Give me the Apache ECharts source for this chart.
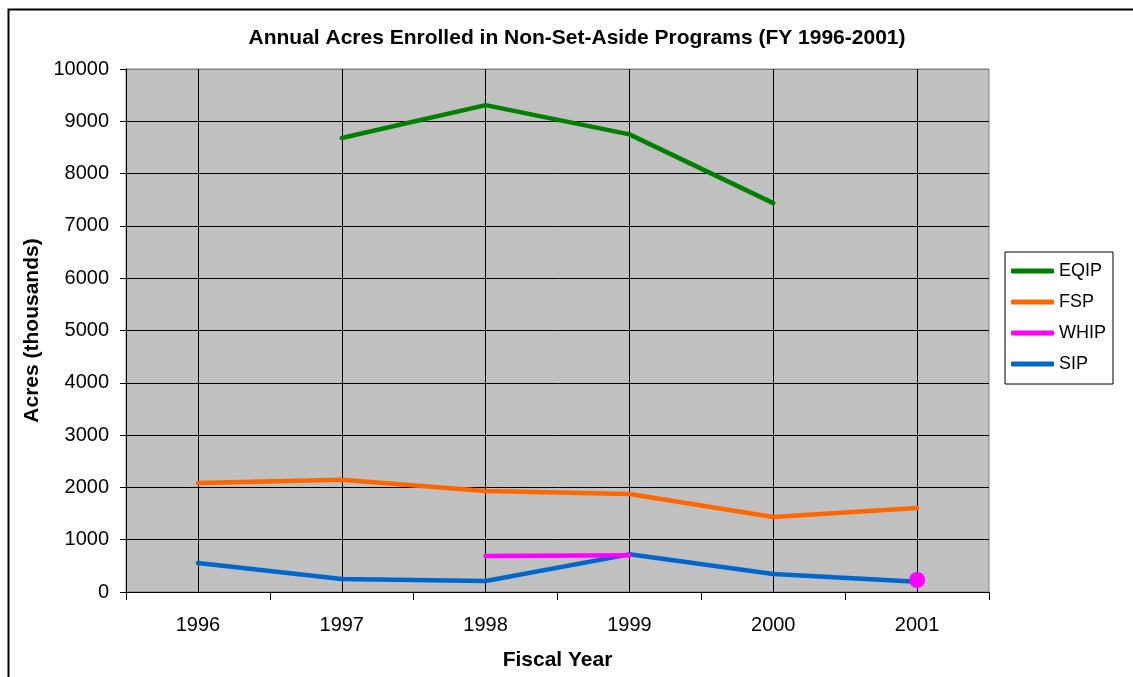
<!DOCTYPE html>
<html>
<head>
<meta charset="utf-8">
<script src="https://cdn.jsdelivr.net/npm/echarts@6/dist/echarts.min.js"></script>
<style>
  html, body { margin: 0; padding: 0; background: #fff; }
  #echartDiv { width: 1133px; height: 677px; }
</style>
</head>
<body>
<div id="echartDiv"></div>
<script>
// data
const years = ["1996", "1997", "1998", "1999", "2000", "2001"];
const eqip = ["-", 8680, 9310, 8750, 7435];
const fsp = [2085, 2145, 1930, 1875, 1435, 1605];
const whip = ["-", "-", 690, 705, "-", 230];
const sip = [555, 250, 210, 720, 345, 195];
const yTicks = [0, 10000, 1000]; // min, max, step

const font = "'Liberation Sans', Arial, sans-serif";

// only the lone 2001 WHIP value gets a dot
const whipData = whip.map((v, i) =>
  i === whip.length - 1 ? { value: v, symbol: "circle", symbolSize: 16 } : v
);

// top gridline is the grey plot border in the original
const hLineColors = [];
for (let v = yTicks[0]; v <= yTicks[1]; v += yTicks[2]) {
  hLineColors.push(v === yTicks[1] ? "#808080" : "#000");
}

let myChart = echarts.init(document.getElementById("echartDiv"));
let option = {
  backgroundColor: "#fff",
  animation: false,
  title: {
    text: "Annual Acres Enrolled in Non-Set-Aside Programs (FY 1996-2001)",
    left: 572,
    top: 23,
    textAlign: "center",
    textStyle: { fontFamily: font, fontSize: 21, fontWeight: "bold", color: "#000" },
  },
  graphic: [
    {
      type: "rect",
      left: 6,
      top: 7,
      shape: { width: 1300, height: 800 },
      style: { fill: "none", stroke: "#000", lineWidth: 2 },
      silent: true,
    },
  ],
  legend: {
    orient: "vertical",
    left: 1005,
    top: 252,
    padding: [10, 7, 11, 6],
    icon: "roundRect",
    itemWidth: 43,
    itemHeight: 5,
    itemGap: 13,
    borderColor: "#000",
    borderWidth: 1,
    backgroundColor: "#fff",
    textStyle: { fontFamily: font, fontSize: 18, color: "#000", lineHeight: 18 },
    data: ["EQIP", "FSP", "WHIP", "SIP"],
  },
  grid: {
    left: 126,
    right: 144,
    top: 69,
    bottom: 85,
    show: true,
    backgroundColor: "#c0c0c0",
    borderColor: "#808080",
    borderWidth: 1,
  },
  xAxis: {
    type: "category",
    data: years,
    boundaryGap: true,
    name: "Fiscal Year",
    nameLocation: "middle",
    nameGap: 58,
    nameTextStyle: { fontFamily: font, fontSize: 21, fontWeight: "bold", color: "#000" },
    axisLine: { lineStyle: { color: "#000", width: 1 } },
    axisTick: { show: true, length: 8, lineStyle: { color: "#000" } },
    axisLabel: { fontFamily: font, fontSize: 20, color: "#000", margin: 23 },
    splitLine: { show: true, alignWithLabel: true, lineStyle: { color: "#000", width: 1 } },
  },
  yAxis: {
    type: "value",
    min: yTicks[0],
    max: yTicks[1],
    interval: yTicks[2],
    name: "Acres (thousands)",
    nameLocation: "middle",
    nameGap: 83,
    nameTextStyle: { fontFamily: font, fontSize: 21, fontWeight: "bold", color: "#000" },
    axisLine: { show: true, lineStyle: { color: "#000", width: 1 } },
    axisTick: { show: true, length: 6, lineStyle: { color: "#000" } },
    axisLabel: {
      fontFamily: font,
      fontSize: 20,
      color: "#000",
      margin: 17,
      formatter: (v) => String(v),
    },
    splitLine: { show: true, lineStyle: { color: hLineColors, width: 1 } },
  },
  series: [
    {
      name: "EQIP",
      type: "line",
      data: eqip,
      symbol: "none",
      color: "#008000",
      lineStyle: { width: 4.5, color: "#008000", cap: "round" },
      z: 3,
    },
    {
      name: "FSP",
      type: "line",
      data: fsp,
      symbol: "none",
      color: "#ff6600",
      lineStyle: { width: 4.5, color: "#ff6600", cap: "round" },
      z: 3,
    },
    {
      name: "WHIP",
      type: "line",
      data: whipData,
      symbol: "none",
      showSymbol: true,
      color: "#ff00ff",
      itemStyle: { color: "#ff00ff" },
      lineStyle: { width: 4.5, color: "#ff00ff", cap: "round" },
      z: 4,
    },
    {
      name: "SIP",
      type: "line",
      data: sip,
      symbol: "none",
      color: "#0066cc",
      lineStyle: { width: 4.5, color: "#0066cc", cap: "round" },
      z: 3,
    },
  ],
};
option && myChart.setOption(option);
</script>
</body>
</html>
